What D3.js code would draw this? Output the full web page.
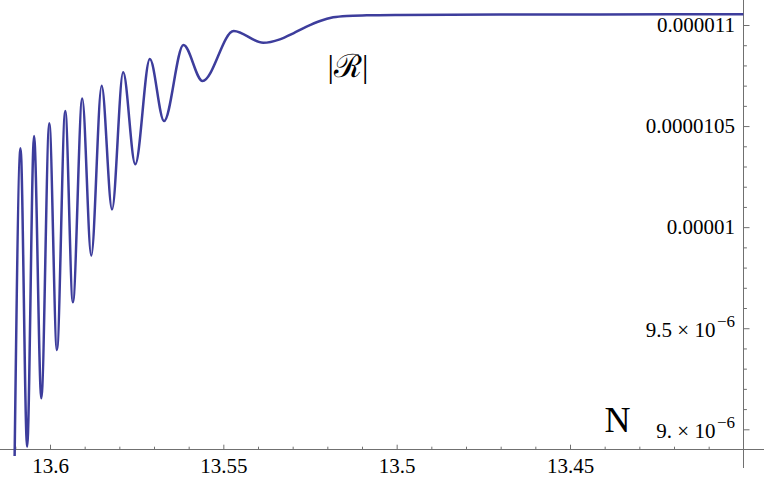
<!DOCTYPE html>
<html><head><meta charset="utf-8">
<script src="https://cdn.jsdelivr.net/npm/d3@7"></script>
<style>body{margin:0;background:#fff} svg{display:block}</style>
</head><body><svg id="c" width="764" height="482"></svg>
<script>
// ---- data ----
const N = [13.6102, 13.6085, 13.6066, 13.6046, 13.6025, 13.6002, 13.5980, 13.5956,
           13.5934, 13.5907, 13.5881, 13.5851, 13.5821, 13.5789, 13.5754, 13.5712,
           13.5671, 13.5615, 13.5560, 13.5470, 13.5385, 13.5337, 13.5298, 13.5260,
           13.5221, 13.5183, 13.5144, 13.5086, 13.4990, 13.4702, 13.4413, 13.4000];
const R = [8.868e-6, 10.390e-6, 8.914e-6, 10.451e-6, 9.153e-6, 10.514e-6, 9.392e-6, 10.575e-6,
           9.628e-6, 10.637e-6, 9.859e-6, 10.700e-6, 10.088e-6, 10.766e-6, 10.311e-6, 10.832e-6,
           10.525e-6, 10.901e-6, 10.723e-6, 10.970e-6, 10.912e-6, 10.929e-6, 10.959e-6, 10.992e-6,
           11.020e-6, 11.038e-6, 11.045e-6, 11.048e-6, 11.050e-6, 11.052e-6, 11.0525e-6, 11.053e-6];
const xTicks = [13.6, 13.55, 13.5, 13.45];
const xTickLabels = ["13.6", "13.55", "13.5", "13.45"];
const xMinorTicks = [13.61, 13.59, 13.58, 13.57, 13.56, 13.54, 13.53, 13.52, 13.51,
                     13.49, 13.48, 13.47, 13.46, 13.44, 13.43, 13.42, 13.41];
const yTicks = [9e-6, 9.5e-6, 1e-5, 1.05e-5, 1.1e-5];
const yTickMain = ["9.\u2005\u00d7\u200510", "9.5\u2005\u00d7\u200510", "0.00001", "0.0000105", "0.000011"];
const yTickSup = ["\u22126", "\u22126", "", "", ""];
const yMinorTicks = [9.1e-6, 9.2e-6, 9.3e-6, 9.4e-6, 9.6e-6, 9.7e-6, 9.8e-6, 9.9e-6,
                     10.1e-6, 10.2e-6, 10.3e-6, 10.4e-6, 10.6e-6, 10.7e-6, 10.8e-6, 10.9e-6];
const xOrigin = 13.4, yOrigin = 8.901e-6;
const xLabel = "N";
const curveLabel = "|\u211b|";

// ---- layout ----
const W = 764, H = 482;
const svg = d3.select("#c");
const x = d3.scaleLinear().domain([13.6, 13.45]).range([50, 570]);
const y = d3.scaleLinear().domain([9e-6, 1.1e-5]).range([429.3, 25]);
const axisColor = "#707070";
const serif = "'Liberation Serif', 'Times New Roman', serif";

const ax = Math.round(x(xOrigin)) + 0.5;
const ay = Math.round(y(yOrigin)) + 0.5;

// x axis
const gx = svg.append("g").attr("transform", `translate(0,${ay})`);
gx.append("line").attr("x1", 0).attr("x2", W).attr("stroke", axisColor).attr("stroke-width", 1);
const gxMinor = gx.append("g").call(d3.axisBottom(x).tickValues(xMinorTicks).tickSizeInner(-2.8).tickSizeOuter(0).tickFormat(""));
const gxMajor = gx.append("g").call(d3.axisBottom(x).tickValues(xTicks).tickSizeInner(-4.8).tickSizeOuter(0)
  .tickFormat((d, i) => xTickLabels[i]));
[gxMinor, gxMajor].forEach(g => {
  g.select(".domain").remove();
  g.selectAll(".tick line").attr("stroke", axisColor);
});
gxMajor.selectAll(".tick text").attr("y", 23.5).attr("dy", 0)
  .attr("font-family", serif).attr("font-size", 21).attr("fill", "#000");

// y axis
const gy = svg.append("g").attr("transform", `translate(${ax},0)`);
gy.append("line").attr("y1", 0).attr("y2", 468).attr("stroke", axisColor).attr("stroke-width", 1);
const gyMinor = gy.append("g").call(
  d3.axisLeft(y).tickValues(yMinorTicks).tickSizeInner(-3.4).tickSizeOuter(0).tickFormat(""));
const gyMajor = gy.append("g").call(
  d3.axisLeft(y).tickValues(yTicks).tickSizeInner(-6).tickSizeOuter(0).tickFormat(""));
[gyMinor, gyMajor].forEach(g => {
  g.select(".domain").remove();
  g.selectAll(".tick line").attr("stroke", axisColor);
  g.selectAll(".tick text").remove();
});

// y tick labels
const yl = svg.append("g").selectAll("text").data(yTicks).join("text")
  .attr("x", 735)
  .attr("y", (d, i) => y(d) + (yTickSup[i] ? 8.6 : 7))
  .attr("text-anchor", "end")
  .attr("font-family", serif).attr("font-size", 21).attr("fill", "#000");
yl.append("tspan").text((d, i) => yTickMain[i]);
yl.filter((d, i) => yTickSup[i] !== "").append("tspan")
  .attr("dx", 1.5).attr("dy", -10).attr("font-size", 17).text((d) => yTickSup[yTicks.indexOf(d)]);

// curve
const line = d3.line().x(d => x(d[0])).y(d => y(d[1])).curve(d3.curveMonotoneX);
svg.append("path").datum(N.map((n, i) => [n, R[i]]))
  .attr("d", line).attr("fill", "none")
  .attr("stroke", "#3d3d9c").attr("stroke-width", 2.5).attr("stroke-linejoin", "round");

// labels
svg.append("text").attr("x", 604.5).attr("y", 431.7)
  .attr("font-family", serif).attr("font-size", 36).attr("fill", "#000").text(xLabel);
svg.append("text").attr("x", 327.5).attr("y", 76.5)
  .attr("font-family", serif).attr("font-size", 32).attr("fill", "#000").text(curveLabel);
</script></body></html>
